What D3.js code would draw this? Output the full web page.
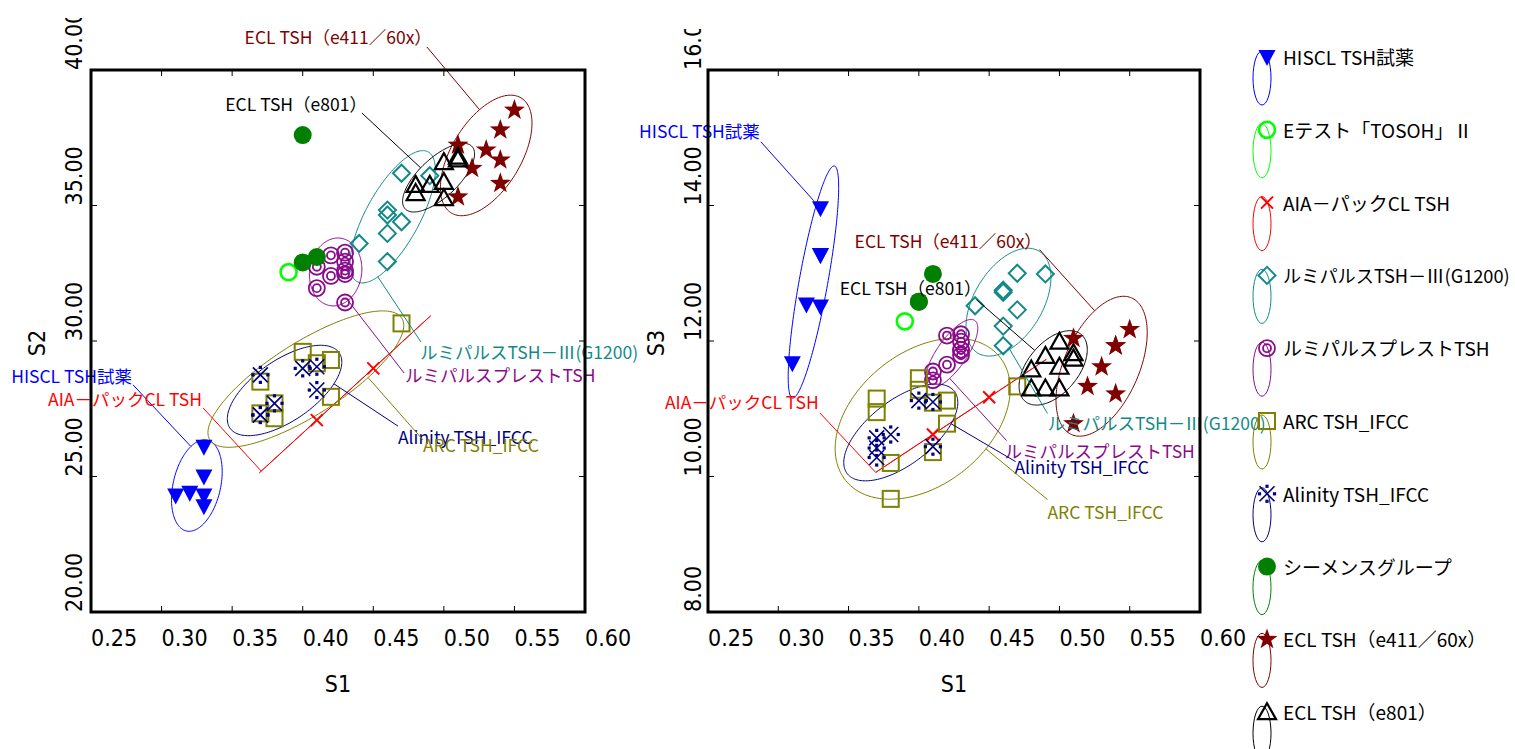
<!DOCTYPE html>
<html><head><meta charset="utf-8">
<script src="https://cdn.jsdelivr.net/npm/d3@7/dist/d3.min.js"></script>
<style>html,body{margin:0;padding:0;background:#fff;overflow:hidden}svg{display:block}</style>
</head><body>
<svg id="chart" width="1515" height="749" xmlns="http://www.w3.org/2000/svg"></svg>
<script>
// ---------------- data ----------------
const seriesNames = ["HISCL TSH試薬","Eテスト「TOSOH」Ⅱ","AIA－パックCL TSH","ルミパルスTSH－Ⅲ(G1200)","ルミパルスプレストTSH","ARC TSH_IFCC","Alinity TSH_IFCC","シーメンスグループ","ECL TSH（e411／60x）","ECL TSH（e801）"];
const xTickValues = [0.25,0.30,0.35,0.40,0.45,0.50,0.55,0.60];
const s2TickValues = [20,25,30,35,40];
const s3TickValues = [8,10,12,14,16];
const xTitle = "S1", s2Title = "S2", s3Title = "S3";

// [S1, S2]
const hisclS2   = [[0.33,26.1],[0.33,25.0],[0.31,24.3],[0.32,24.4],[0.33,24.3],[0.33,23.9]];
const etestS2   = [[0.39,32.54]];
const aiaS2     = [[0.45,28.99],[0.41,27.08]];
const lumi3S2   = [[0.47,36.19],[0.46,34.83],[0.46,34.65],[0.47,34.4],[0.46,33.97],[0.44,33.6],[0.46,32.93],[0.49,36.1]];
const prestoS2  = [[0.42,33.16],[0.43,33.26],[0.43,32.93],[0.43,32.6],[0.42,32.4],[0.41,32.74],[0.41,31.95],[0.43,32.47],[0.43,31.42]];
const arcS2     = [[0.40,29.6],[0.42,29.3],[0.41,29.18],[0.37,28.5],[0.42,27.94],[0.38,27.7],[0.38,27.15],[0.37,27.33],[0.47,30.65]];
const alinityS2 = [[0.37,28.75],[0.37,27.27],[0.37,27.27],[0.38,27.7],[0.40,28.99],[0.41,29.05],[0.41,28.19]];
const siemensS2 = [[0.40,37.6],[0.40,32.9],[0.41,33.1]];
const e411S2    = [[0.55,38.52],[0.54,37.79],[0.53,37.05],[0.54,36.68],[0.52,36.37],[0.54,35.82],[0.51,35.32],[0.51,37.23]];
const e801S2    = [[0.48,35.76],[0.48,35.46],[0.49,35.76],[0.50,35.87],[0.50,35.27],[0.50,36.6],[0.51,36.8],[0.51,36.7]];

// [S1, S3]
const hisclS3   = [[0.33,13.96],[0.33,13.27],[0.33,13.27],[0.32,12.54],[0.33,12.51],[0.31,11.67]];
const etestS3   = [[0.39,12.29]];
const aiaS3     = [[0.45,11.17],[0.41,10.62]];
const lumi3S3   = [[0.47,13.0],[0.49,12.99],[0.46,12.75],[0.46,12.72],[0.47,12.46],[0.44,12.52],[0.46,12.22],[0.46,11.93]];
const prestoS3  = [[0.42,12.08],[0.43,12.10],[0.43,11.99],[0.43,11.87],[0.43,11.79],[0.42,11.65],[0.41,11.55],[0.41,11.42],[0.43,11.87]];
const arcS3     = [[0.37,11.15],[0.37,10.95],[0.40,11.45],[0.40,11.28],[0.41,11.09],[0.42,11.12],[0.42,10.78],[0.41,10.36],[0.38,10.2],[0.38,9.67],[0.47,11.33]];
const alinityS3 = [[0.37,10.57],[0.37,10.42],[0.37,10.28],[0.38,10.62],[0.40,11.12],[0.41,11.10],[0.41,10.44]];
const siemensS3 = [[0.41,12.99],[0.40,12.58],[0.40,12.58]];
const e411S3    = [[0.55,12.17],[0.54,11.93],[0.54,11.93],[0.53,11.62],[0.52,11.33],[0.54,11.22],[0.51,12.04],[0.51,10.78]];
const e801S3    = [[0.48,11.58],[0.48,11.30],[0.49,11.78],[0.49,11.30],[0.50,11.99],[0.50,11.62],[0.50,11.30],[0.51,11.82],[0.51,11.74]];

// ---------------- styles / layout ----------------
const seriesColors = ["#0000ff","#00ff00","#ff0000","#128a8a","#8b0a8b","#808000","#000080","#008000","#800000","#000000"];
const seriesShapes = ["tridown","ring","x","diamond","dring","square","alinity","dot","star","triup"];
const withEllipse  = [true,false,true,true,true,true,true,false,true,true];
const leftData  = [hisclS2,etestS2,aiaS2,lumi3S2,prestoS2,arcS2,alinityS2,siemensS2,e411S2,e801S2];
const rightData = [hisclS3,etestS3,aiaS3,lumi3S3,prestoS3,arcS3,alinityS3,siemensS3,e411S3,e801S3];
const K = Math.sqrt(-2*Math.log(0.1)); // 90% ellipse

// callout placements (data coordinates of each panel)
const leftCallouts = [
  {s:0, tx:0.279, ty:28.45, a:"end",   lx:0.2798, ly:28.38},
  {s:2, tx:0.3286,ty:27.6,  a:"end",   lx:0.3294, ly:27.53},
  {s:3, tx:0.4831,ty:29.34, a:"start", lx:0.4838, ly:29.96},
  {s:4, tx:0.4725,ty:28.49, a:"start", lx:0.4718, ly:28.82},
  {s:6, tx:0.4675,ty:26.2,  a:"start", lx:0.4675, ly:26.86},
  {s:5, tx:0.4852,ty:25.9,  a:"start", lx:0.4852, ly:26.35},
  {s:8, tx:0.4915,ty:40.96, a:"end",   lx:0.488,  ly:40.85},
  {s:9, tx:0.4455,ty:38.49, a:"end",   lx:0.442,  ly:38.41}
];
const rightCallouts = [
  {s:0, tx:0.2869,ty:15.0,  a:"end",   lx:0.2876, ly:14.94, target:[0.33,13.96]},
  {s:8, tx:0.4875,ty:13.37, a:"end",   lx:0.4858, ly:13.35},
  {s:9, tx:0.4445,ty:12.68, a:"end",   lx:0.441,  ly:12.61},
  {s:2, tx:0.3288,ty:10.99, a:"end",   lx:0.3295, ly:10.94},
  {s:3, tx:0.4915,ty:10.68, a:"start", lx:0.4915, ly:10.93},
  {s:4, tx:0.4609,ty:10.28, a:"start", lx:0.4624, ly:10.53},
  {s:6, tx:0.468, ty:10.04, a:"start", lx:0.4688, ly:10.22},
  {s:5, tx:0.4915,ty:9.38,  a:"start", lx:0.4915, ly:9.66}
];

const panels = [
  {x0:91,  x1:585,  y0:70, y1:612, yDomain:[20,40], yTicks:s2TickValues, yTitle:s2Title, data:leftData,  callouts:leftCallouts,
   yLabX:82, yTitleX:45, xTitleX:338, clipTop:18},
  {x0:708, x1:1200, y0:70, y1:612, yDomain:[8,16],  yTicks:s3TickValues, yTitle:s3Title, data:rightData, callouts:rightCallouts,
   yLabX:701, yTitleX:664, xTitleX:954, clipTop:29}
];

const tickFont = "'Liberation Sans Narrow','Arial Narrow','DejaVu Sans Condensed',sans-serif";
const jpFont = "'Noto Sans CJK JP','Noto Sans',sans-serif";

const svg = d3.select("#chart");
const defs = svg.append("defs");

function starPath(R, r){
  const p=[];
  for(let i=0;i<10;i++){const ang=-Math.PI/2+i*Math.PI/5; const rr=i%2?r:R; p.push([rr*Math.cos(ang), rr*Math.sin(ang)]);}
  return "M"+p.map(q=>q[0].toFixed(2)+","+q[1].toFixed(2)).join("L")+"Z";
}
function drawMarker(g, shape, color){
  switch(shape){
    case "tridown": g.append("path").attr("d","M-8.5,-7L8.5,-7L0,9Z").attr("fill",color); break;
    case "ring": g.append("circle").attr("r",8).attr("fill","none").attr("stroke",color).attr("stroke-width",2.6); break;
    case "x": g.append("path").attr("d","M-6,-6L6,6M-6,6L6,-6").attr("stroke",color).attr("stroke-width",2).attr("fill","none"); break;
    case "diamond": g.append("path").attr("d","M0,-8.5L8.5,0L0,8.5L-8.5,0Z").attr("fill","none").attr("stroke",color).attr("stroke-width",2); break;
    case "dring":
      g.append("circle").attr("r",8).attr("fill","none").attr("stroke",color).attr("stroke-width",1.8);
      g.append("circle").attr("r",4).attr("fill","none").attr("stroke",color).attr("stroke-width",1.8); break;
    case "square": g.append("rect").attr("x",-8).attr("y",-8).attr("width",16).attr("height",16).attr("fill","none").attr("stroke",color).attr("stroke-width",2); break;
    case "alinity":
      g.append("path").attr("d","M-7.5,-7.5L7.5,7.5M-7.5,7.5L7.5,-7.5").attr("stroke",color).attr("stroke-width",1.6).attr("fill","none");
      [[0,-7.5],[0,7.5],[-7.5,0],[7.5,0]].forEach(q=>g.append("rect").attr("x",q[0]-1.6).attr("y",q[1]-1.6).attr("width",3.2).attr("height",3.2).attr("fill",color));
      break;
    case "dot": g.append("circle").attr("r",9).attr("fill",color); break;
    case "star": g.append("path").attr("d",starPath(11,4.4)).attr("fill",color); break;
    case "triup": g.append("path").attr("d","M0,-9L9,7L-9,7Z").attr("fill","none").attr("stroke",color).attr("stroke-width",2.2).attr("stroke-linejoin","miter"); break;
  }
}

function ellipsePoints(pts, xs, ys){
  const n=pts.length; if(n<2) return null;
  const P=pts.map(d=>[xs(d[0]),ys(d[1])]);
  const mx=d3.mean(P,p=>p[0]), my=d3.mean(P,p=>p[1]);
  let a=0,b=0,c=0;
  P.forEach(p=>{const dx=p[0]-mx, dy=p[1]-my; a+=dx*dx; b+=dx*dy; c+=dy*dy;});
  a/=n-1; b/=n-1; c/=n-1;
  const t=(a+c)/2, dd=Math.sqrt(((a-c)/2)**2+b*b);
  const l1=t+dd, l2=Math.max(t-dd,0);
  const th=0.5*Math.atan2(2*b,a-c);
  const r1=K*Math.sqrt(l1), r2=K*Math.sqrt(l2);
  return d3.range(0,361,2).map(i=>{const u=i*Math.PI/180; const ex=r1*Math.cos(u), ey=r2*Math.sin(u);
    return [mx+ex*Math.cos(th)-ey*Math.sin(th), my+ex*Math.sin(th)+ey*Math.cos(th)];});
}

panels.forEach((p,pi)=>{
  const xs=d3.scaleLinear().domain([0.25,0.60]).range([p.x0,p.x1]);
  const ys=d3.scaleLinear().domain(p.yDomain).range([p.y1,p.y0]);
  const g=svg.append("g");

  // ellipses
  const ell=[];
  p.data.forEach((pts,si)=>{
    if(!withEllipse[si]) return;
    const e=ellipsePoints(pts,xs,ys); if(!e) return;
    ell[si]=e;
    g.append("path").attr("d",d3.line()(e)).attr("fill","none").attr("stroke",seriesColors[si]).attr("stroke-width",1);
  });

  // markers
  p.data.forEach((pts,si)=>{
    pts.forEach(d=>{
      const m=g.append("g").attr("transform",`translate(${xs(d[0])},${ys(d[1])})`);
      drawMarker(m,seriesShapes[si],seriesColors[si]);
    });
  });

  // callouts
  p.callouts.forEach(c=>{
    const col=seriesColors[c.s];
    const ax=xs(c.lx), ay=ys(c.ly);
    let end=null;
    if(c.target){
      const tx=xs(c.target[0]), ty=ys(c.target[1]);
      const L=Math.hypot(tx-ax,ty-ay), sh=10;
      end=[tx-(tx-ax)/L*sh, ty-(ty-ay)/L*sh];
    } else if(ell[c.s]){
      let bd=1e9;
      ell[c.s].forEach(q=>{const d=(q[0]-ax)**2+(q[1]-ay)**2; if(d<bd){bd=d;end=q;}});
    }
    if(end) g.append("line").attr("x1",ax).attr("y1",ay).attr("x2",end[0]).attr("y2",end[1]).attr("stroke",col).attr("stroke-width",1);
    g.append("text").attr("x",xs(c.tx)).attr("y",ys(c.ty)).attr("text-anchor",c.a)
      .attr("font-family",jpFont).attr("font-size",17.5).attr("fill",col).text(seriesNames[c.s]);
  });

  // frame
  g.append("rect").attr("x",p.x0).attr("y",p.y0).attr("width",p.x1-p.x0).attr("height",p.y1-p.y0)
    .attr("fill","none").attr("stroke","#000").attr("stroke-width",3);
  // inner ticks
  const tl=6;
  xTickValues.slice(1,-1).forEach(v=>{
    g.append("line").attr("x1",xs(v)).attr("x2",xs(v)).attr("y1",p.y1).attr("y2",p.y1-tl).attr("stroke","#000");
    g.append("line").attr("x1",xs(v)).attr("x2",xs(v)).attr("y1",p.y0).attr("y2",p.y0+tl).attr("stroke","#000");
  });
  p.yTicks.slice(1,-1).forEach(v=>{
    g.append("line").attr("y1",ys(v)).attr("y2",ys(v)).attr("x1",p.x0).attr("x2",p.x0+tl).attr("stroke","#000");
    g.append("line").attr("y1",ys(v)).attr("y2",ys(v)).attr("x1",p.x1).attr("x2",p.x1-tl).attr("stroke","#000");
  });
  // x tick labels
  xTickValues.forEach(v=>{
    g.append("text").attr("x",xs(v)).attr("y",646).attr("font-family",tickFont).attr("font-size",23)
      .attr("fill","#000").text(d3.format(".2f")(v));
  });
  // y tick labels (rotated, clipped at top)
  const cid="clip"+pi;
  defs.append("clipPath").attr("id",cid).append("rect").attr("x",p.yLabX-40).attr("y",p.clipTop).attr("width",60).attr("height",749);
  const yl=g.append("g").attr("clip-path",`url(#${cid})`);
  p.yTicks.forEach(v=>{
    yl.append("text").attr("transform",`translate(${p.yLabX},${ys(v)}) rotate(-90)`).attr("font-family",tickFont)
      .attr("font-size",23).attr("fill","#000").text(d3.format(".2f")(v));
  });
  // axis titles
  g.append("text").attr("x",p.xTitleX).attr("y",692).attr("text-anchor","middle").attr("font-family",tickFont).attr("font-size",23).text(xTitle);
  g.append("text").attr("transform",`translate(${p.yTitleX},343) rotate(-90)`).attr("text-anchor","middle").attr("font-family",tickFont).attr("font-size",23).text(p.yTitle);
});

// legend
const lg=svg.append("g");
seriesNames.forEach((nm,i)=>{
  const my=57+i*72.8;
  lg.append("ellipse").attr("cx",1262).attr("cy",my+21).attr("rx",9).attr("ry",27).attr("fill","none").attr("stroke",seriesColors[i]).attr("stroke-width",1);
  const m=lg.append("g").attr("transform",`translate(1267,${my})`);
  drawMarker(m,seriesShapes[i],seriesColors[i]);
  const fs=19;
  const t=lg.append("text").attr("x",1283).attr("y",my+8).attr("font-family",jpFont).attr("font-size",fs).attr("fill","#000").text(nm);
  const maxW=1510-1283, w=t.node().getComputedTextLength();
  if(w>maxW) t.attr("font-size",Math.floor(fs*maxW/w*10)/10);
});
</script>
</body></html>
